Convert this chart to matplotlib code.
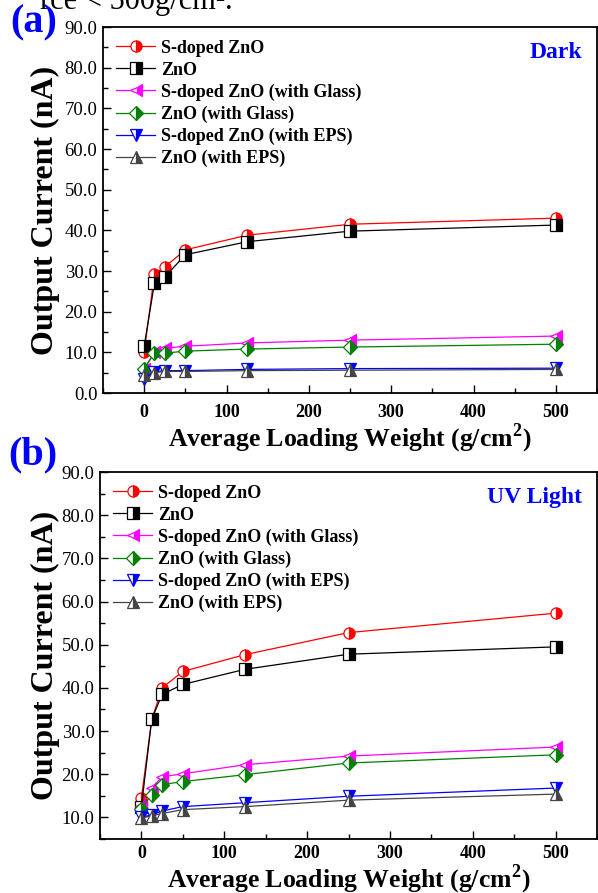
import matplotlib.pyplot as plt
from matplotlib.ticker import MultipleLocator, FormatStrFormatter

# loading weight (g/cm^2)
weights = [0, 12.5, 25, 50, 125, 250, 500]

labels = ["S-doped ZnO", "ZnO", "S-doped ZnO (with Glass)", "ZnO (with Glass)",
          "S-doped ZnO (with EPS)", "ZnO (with EPS)"]

# (a) dark
dark_s_zno = [10.0, 29.3, 31.0, 35.2, 38.8, 41.5, 43.0]
dark_zno = [11.5, 27.0, 28.5, 34.0, 37.2, 39.8, 41.3]
dark_s_glass = [6.0, 10.0, 11.0, 11.5, 12.3, 13.0, 14.0]
dark_zno_glass = [6.0, 9.8, 9.8, 10.3, 10.8, 11.3, 12.0]
dark_s_eps = [3.5, 5.2, 5.5, 5.5, 5.8, 6.0, 6.1]
dark_zno_eps = [4.5, 5.0, 5.3, 5.3, 5.5, 5.6, 5.8]

# (b) UV light
uv_s_zno = [14.6, 32.7, 40.0, 43.8, 47.7, 52.8, 57.3]
uv_zno = [12.5, 32.8, 38.5, 40.8, 44.3, 47.8, 49.5]
uv_s_glass = [12.7, 16.9, 19.4, 20.1, 22.2, 24.2, 26.3]
uv_zno_glass = [12.0, 15.3, 17.6, 18.3, 19.9, 22.6, 24.5]
uv_s_eps = [10.0, 10.6, 11.5, 12.5, 13.4, 14.9, 16.8]
uv_zno_eps = [9.8, 10.4, 10.9, 11.8, 12.5, 14.0, 15.4]

styles = [("red", "o"), ("black", "s"), ("magenta", "<"),
          ("green", "D"), ("blue", "v"), ("#444444", "^")]

serif = "Liberation Serif"
plt.rcParams["font.family"] = serif
plt.rcParams["mathtext.fontset"] = "custom"
plt.rcParams["mathtext.rm"] = "Liberation Serif:bold"
plt.rcParams["mathtext.bf"] = "Liberation Serif:bold"

fig = plt.figure(figsize=(5.98, 8.93), dpi=100)
W, H = 598, 893


def box(l, t, r, b):
    return (l / W, 1 - b / H, (r - l) / W, (b - t) / H)


ax1 = fig.add_axes(box(103, 27, 597, 393))
ax2 = fig.add_axes(box(100, 472, 597, 839))


def draw(ax, series, ylo, ytop_first, tag, xlab_off, xpad):
    for (c, m), lab, ys in zip(styles, labels, series):
        ms = 8 if m != "D" else 7
        ax.plot(weights, ys, color=c, lw=0.9, marker=m, ms=ms,
                fillstyle="right", markerfacecoloralt="white",
                markeredgecolor=c, markeredgewidth=0.9, label=lab)
    ax.set_xlim(-50, 550)
    ax.set_ylim(ylo, 90)
    ax.xaxis.set_major_locator(MultipleLocator(100))
    ax.xaxis.set_minor_locator(MultipleLocator(50))
    ax.yaxis.set_minor_locator(MultipleLocator(5))
    ax.yaxis.set_major_formatter(FormatStrFormatter("%.1f"))
    ax.set_yticks([v for v in range(ytop_first, 91, 10)])
    ax.tick_params(which="both", direction="in", top=False, right=False)
    ax.tick_params(which="major", length=6, width=1)
    ax.tick_params(which="minor", length=3.5, width=1)
    ax.tick_params(axis="y", labelsize=13.5, pad=4)
    ax.tick_params(axis="x", labelsize=13, pad=xpad)
    for t in ax.get_xticklabels():
        t.set_fontweight("bold")
    for s in ax.spines.values():
        s.set_linewidth(1.3)
    left = ax.get_position().x0 * W
    ax.set_ylabel("Output Current (nA)", fontsize=23, fontweight="bold", va="center")
    ax.yaxis.set_label_coords(-(left - 45) / 497, 0.5)
    ax.set_xlabel(r"Average Loading Weight (g/cm$^{\mathbf{2}}$)", fontsize=18.5,
                  fontweight="bold", va="center")
    ax.xaxis.set_label_coords(0.5, -xlab_off)
    ax.legend(loc="upper left", frameon=False, handlelength=2.2,
              handletextpad=0.3, labelspacing=0.27, borderaxespad=0.3,
              prop={"weight": "bold", "size": 13, "family": serif})
    ax.text(0.97, 0.93, tag, transform=ax.transAxes, ha="right", va="center",
            color="blue", fontsize=17, fontweight="bold")


draw(ax1, [dark_s_zno, dark_zno, dark_s_glass, dark_zno_glass, dark_s_eps, dark_zno_eps],
     0, 0, "Dark", 45 / 366, 8)
draw(ax2, [uv_s_zno, uv_zno, uv_s_glass, uv_zno_glass, uv_s_eps, uv_zno_eps],
     5, 10, "UV Light", 40 / 367, 4)

fig.text(10 / W, 1 - 23 / H, "(a)", color="blue", fontsize=29, fontweight="bold",
         va="center", ha="left")
fig.text(8 / W, 1 - 455 / H, "(b)", color="blue", fontsize=29, fontweight="bold",
         va="center", ha="left")
fig.text(40 / W, 1 - 1 / H, "rce < 500g/cm\u00b2.", fontsize=22, va="center", ha="left")

fig.savefig("out.png", dpi=100)
